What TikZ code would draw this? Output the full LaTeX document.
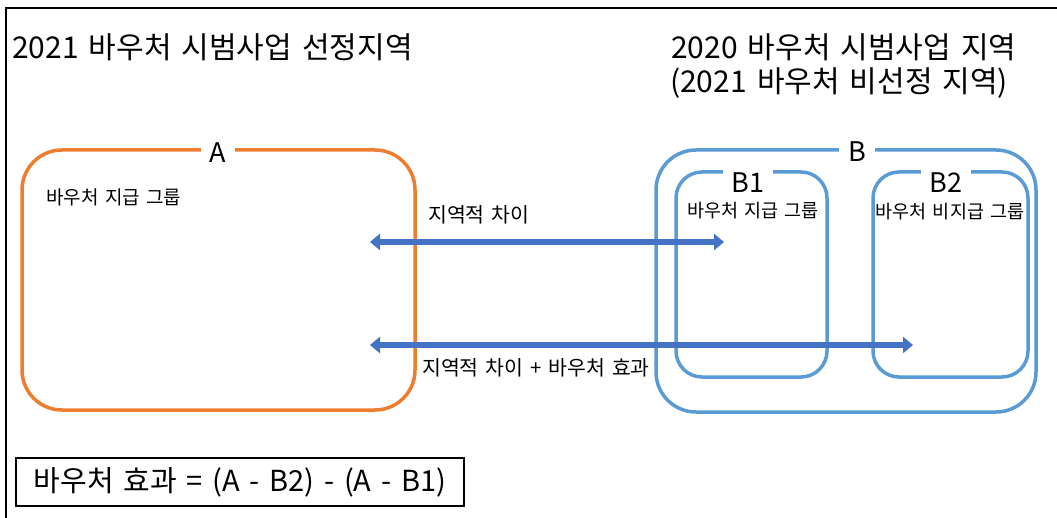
\documentclass[tikz,border=0pt]{standalone}
\usepackage{fontspec}
\setmainfont[WordSpace=1.5]{Noto Sans CJK KR}
\usetikzlibrary{arrows.meta}
\definecolor{aorange}{HTML}{ED7D31}
\definecolor{bblue}{HTML}{5B9BD5}
\definecolor{arrblue}{HTML}{4472C4}
\begin{document}
\begin{tikzpicture}[x=1pt,y=-1pt,
  titletext/.style={font=\fontsize{30}{36}\selectfont, anchor=west, inner sep=0pt},
  grouptext/.style={font=\fontsize{19}{23}\selectfont, inner sep=0pt},
  arrtext/.style={font=\fontsize{20.5}{24}\selectfont, inner sep=0pt, anchor=west},
  smalltext/.style={font=\fontsize{18.5}{22}\selectfont, inner sep=0pt},
  regionA/.style={draw=aorange, line width=3.5pt, rounded corners=40pt, minimum width=393pt, minimum height=260pt},
  regionB/.style={draw=bblue, line width=3.5pt, rounded corners=40pt},
  subregion/.style={draw=bblue, line width=3.5pt, rounded corners=26pt},
  boxlabel/.style={font=\fontsize{27}{32}\selectfont, fill=white, inner xsep=9pt, inner ysep=5pt},
  arr/.style={draw=arrblue, line width=6pt, {Triangle[width=16pt,length=10pt]}-{Triangle[width=16pt,length=10pt]}},
  formula/.style={draw=black, line width=1.2pt, minimum width=448pt, minimum height=48pt, inner sep=0pt, font=\fontsize{29}{34}\selectfont}
]
\useasboundingbox (0,0) rectangle (1057,518);
\fill[white] (0,0) rectangle (1057,518);
% frame
\coordinate (fbl) at (6,518);
\coordinate (ftl) at (6,8);
\coordinate (ftr) at (1057,8);
\draw[line width=2pt] (fbl) -- (ftl) -- (ftr);

% titles
\node[titletext] (t1) at (12,47) {2021 바우처 시범사업 선정지역};
\node[titletext] (t2) at (671,47) {2020 바우처 시범사업 지역};
\node[titletext] (t3) at (670,83) {(2021 바우처 비선정 지역)};

% region A
\node[regionA] (A) at (218.5,280) {};
\node[boxlabel] (Alab) at (218,153) {A};
\node[grouptext, anchor=west] (Ag) at (46,197) {바우처 지급 그룹};

% region B
\node[regionB, minimum width=380pt, minimum height=262pt] (B) at (846,281) {};
\node[boxlabel] (Blab) at (857,152) {B};
\node[subregion, minimum width=151pt, minimum height=205pt] (B1) at (751.5,274.5) {};
\node[boxlabel] (B1lab) at (748,183) {B1};
\node[smalltext] (B1g) at (753,211) {바우처 지급 그룹};
\node[subregion, minimum width=155pt, minimum height=205pt] (B2) at (950.5,274.5) {};
\node[boxlabel] (B2lab) at (946,183) {B2};
\node[smalltext] (B2g) at (950,212) {바우처 비지급 그룹};

% arrows
\coordinate (a1l) at (370,242);
\coordinate (a1r) at (724,242);
\coordinate (a2l) at (370,345);
\coordinate (a2r) at (913,345);
\draw[arr] (a1l) -- (a1r);
\draw[arr] (a2l) -- (a2r);
\node[arrtext] (l1) at (428,215) {지역적 차이};
\node[arrtext] (l2) at (422,368) {지역적 차이 + 바우처 효과};

% formula
\node[formula] (F) at (240,482) {바우처 효과 = (A - B2) - (A - B1)};
\end{tikzpicture}
\end{document}
